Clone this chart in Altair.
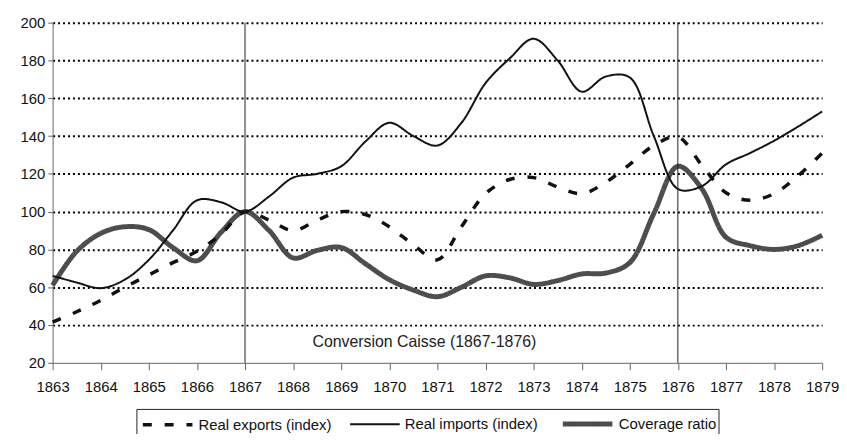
import altair as alt
import pandas as pd

# Half-year sample points
years = [1863.0, 1863.5, 1864.0, 1864.5, 1865.0, 1865.5, 1866.0, 1866.5,
         1867.0, 1867.5, 1868.0, 1868.5, 1869.0, 1869.5, 1870.0, 1870.5,
         1871.0, 1871.5, 1872.0, 1872.5, 1873.0, 1873.5, 1874.0, 1874.5,
         1875.0, 1875.5, 1876.0, 1876.5, 1877.0, 1877.5, 1878.0, 1878.5, 1879.0]

exports = [41.5, 47, 53, 60, 66.5, 73, 79, 88,
           100, 95.5, 90, 95.5, 100, 98.5, 92, 82.5,
           74.5, 92, 109.5, 117, 118, 113, 109.5, 115.5,
           125, 135, 139.5, 124.5, 110, 106, 109.5, 119, 131]

imports = [66, 62.5, 59.5, 64, 74.5, 90, 106, 105,
           100, 108, 118, 120, 124, 137, 147, 140,
           135, 147, 168, 181, 191.5, 180, 163.5, 171.5,
           171, 140, 112, 113.5, 125, 131, 137.5, 145, 153]

coverage = [61, 79, 88.5, 92, 90.5, 81, 74, 89,
            100, 90, 75.5, 79.5, 81, 72.5, 64, 58.5,
            55, 60, 66, 65, 61.5, 63.5, 67, 67.5,
            73, 99, 124, 112, 86.5, 82, 80, 82, 87.5]

names = ["Real exports (index)", "Real imports (index)", "Coverage ratio"]
x_ticks = list(range(1863, 1880))
y_ticks = list(range(20, 201, 20))
conv_years = [1867, 1876]
note_text = ["Conversion Caisse (1867-1876)"]
note_x = [1870.73]
note_y = [31]

rows = []
for name, vals in zip(names, [exports, imports, coverage]):
    for yr, v in zip(years, vals):
        rows.append({"year": yr, "value": v, "series": name})
df = pd.DataFrame(rows)

W, H = 776, 343
FONT = "Liberation Sans"

x_enc = alt.X("year:Q", title=None,
              scale=alt.Scale(domain=[1863, 1879], nice=False, zero=False),
              axis=alt.Axis(values=x_ticks, format="d", grid=False, tickSize=7,
                            labelPadding=10, labelFlush=False))
y_enc = alt.Y("value:Q", title=None,
              scale=alt.Scale(domain=[20, 200], nice=False, zero=False),
              axis=alt.Axis(values=y_ticks, grid=True, tickSize=5, labelPadding=3,
                            labelOverlap=False,
                            gridOpacity={"condition": {"test": "datum.value === 20", "value": 0}, "value": 1}))

leg = alt.Legend(title=None, orient="none", legendX=84, legendY=372,
                 direction="horizontal", padding=5,
                 labelFont=FONT, labelFontSize=15, labelColor="#111",
                 symbolType="stroke", symbolSize=2500, labelOffset=4,
                 columnPadding=14, labelLimit=300)

color_enc = alt.Color("series:N", scale=alt.Scale(type="ordinal", domain=names, range=["#111111", "#111111", "#4d4d4d"]), legend=leg)
dash_enc = alt.StrokeDash("series:N", scale=alt.Scale(type="ordinal", domain=names, range=[[9, 13], [1, 0], [1, 0]]), legend=leg)
width_enc = alt.StrokeWidth("series:N", scale=alt.Scale(type="ordinal", domain=names, range=[3.5, 2, 5]), legend=leg)

line_layers = []
for name in [names[2], names[0], names[1]]:
    line_layers.append(
        alt.Chart(df).transform_filter(alt.datum.series == name)
        .mark_line(interpolate="catmull-rom", strokeCap="butt", strokeJoin="round")
        .encode(x=x_enc, y=y_enc, color=color_enc, strokeDash=dash_enc, strokeWidth=width_enc)
    )

rules = alt.Chart(pd.DataFrame({"year": conv_years})).mark_rule(color="#222", strokeWidth=1).encode(x=x_enc)

note = alt.Chart(pd.DataFrame({"year": note_x, "value": note_y, "label": note_text})).mark_text(
    font=FONT, fontSize=16, color="#222", baseline="middle", align="center").encode(
    x=x_enc, y=y_enc, text="label:N")

# legend frame (decoration, placed in pixels below the plot)
legend_box = alt.Chart(pd.DataFrame({"k": [0]})).mark_rect(
    fill=None, stroke="#222", strokeWidth=1).encode(
    x=alt.value(85), x2=alt.value(672), y=alt.value(390), y2=alt.value(440))

chart = alt.layer(*line_layers, rules, note, legend_box).properties(
    width=W, height=H,
    autosize=alt.AutoSizeParams(type="none"),
    padding={"left": 45, "top": 13, "right": 17, "bottom": 70},
).configure_view(stroke=None).configure_axis(
    labelFont=FONT, labelFontSize=15, labelColor="#111",
    domainColor="#666", tickColor="#666", domainWidth=1, tickWidth=1,
    gridColor="#000", gridDash=[2, 3], gridWidth=2,
)

chart.save("out.html", embed_options={"renderer": "svg", "actions": False})
